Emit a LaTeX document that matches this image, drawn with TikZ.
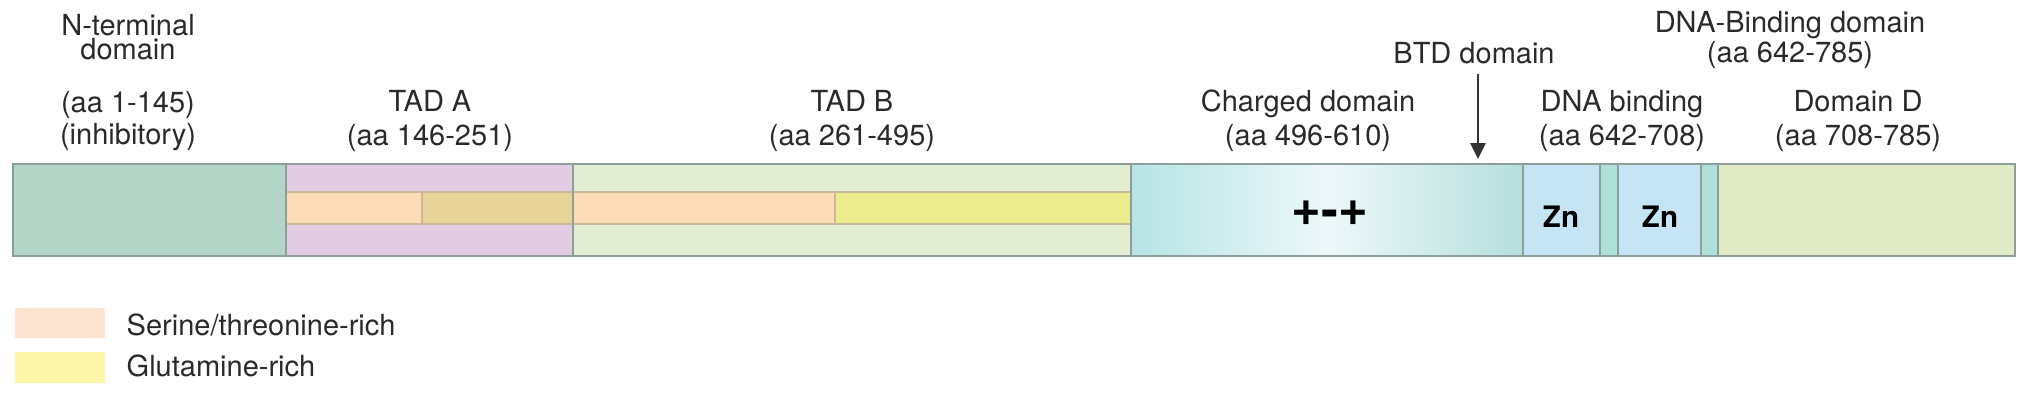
\documentclass[tikz,border=0pt]{standalone}
\usepackage{fontspec}
\setmainfont{TeX Gyre Heros}
\usepackage{tikz}
\usetikzlibrary{arrows.meta}

\definecolor{segline}{HTML}{8E9E9A}
\definecolor{stripeline}{HTML}{C9B89A}
\definecolor{ntermfill}{HTML}{B4D6C9}
\definecolor{tadafill}{HTML}{E4CBE4}
\definecolor{tadbfill}{HTML}{E3EDD1}
\definecolor{serfill}{HTML}{FCDCB6}
\definecolor{overlapfill}{HTML}{E8D497}
\definecolor{glnfill}{HTML}{ECEC8E}
\definecolor{chgleft}{HTML}{B6E4E5}
\definecolor{chgmid}{HTML}{EDF8FA}
\definecolor{chgright}{HTML}{B5DFDD}
\definecolor{znfill}{HTML}{C6E5F4}
\definecolor{gapfill}{HTML}{B0E0DA}
\definecolor{domdfill}{HTML}{E1ECC6}
\definecolor{serlegend}{HTML}{FDE4D0}
\definecolor{glnlegend}{HTML}{FBF5A8}
\definecolor{txt}{HTML}{2A2A2A}

\begin{document}
\begin{tikzpicture}[x=0.01cm, y=-0.01cm,
  every node/.style={font=\fontsize{8.25}{9.7}\selectfont, text=txt, inner sep=0pt},
  seg/.style={draw=segline, line width=0.55pt},
  stripe/.style={draw=stripeline, line width=0.35pt},
  lbl/.style={align=center, anchor=base},
  zn/.style={font=\fontsize{8.4}{9}\selectfont\bfseries, text=black},
  charge/.style={font=\fontsize{14.5}{15}\selectfont\bfseries, text=black},
  pointer/.style={draw=black!80, line width=0.55pt, -{Triangle[width=4.3pt,length=4.5pt]}}]
  \useasboundingbox (0,0) rectangle (2032,397);

  % domain fills
  \fill[ntermfill] (13,164) rectangle (286,256);
  \fill[tadafill] (286,164) rectangle (573,256);
  \fill[tadbfill] (573,164) rectangle (1131,256);
  \shade[left color=chgleft, right color=chgmid] (1131,164) rectangle (1330,256);
  \shade[left color=chgmid, right color=chgright] (1330,164) rectangle (1523,256);
  \fill[znfill] (1523,164) rectangle (1600,256);
  \fill[gapfill] (1600,164) rectangle (1618,256);
  \fill[znfill] (1618,164) rectangle (1701,256);
  \fill[gapfill] (1701,164) rectangle (1718,256);
  \fill[domdfill] (1718,164) rectangle (2015,256);

  % serine / glutamine stripes
  \filldraw[stripe, fill=serfill] (286,192) rectangle (422,224);
  \filldraw[stripe, fill=overlapfill] (422,192) rectangle (573,224);
  \filldraw[stripe, fill=serfill] (573,192) rectangle (835,224);
  \filldraw[stripe, fill=glnfill] (835,192) rectangle (1131,224);

  % outlines
  \draw[seg] (13,164) rectangle (286,256);
  \draw[seg] (286,164) rectangle (573,256);
  \draw[seg] (573,164) rectangle (1131,256);
  \draw[seg] (1131,164) rectangle (1523,256);
  \draw[seg] (1523,164) rectangle (1600,256);
  \draw[seg] (1600,164) rectangle (1618,256);
  \draw[seg] (1618,164) rectangle (1701,256);
  \draw[seg] (1701,164) rectangle (1718,256);
  \draw[seg] (1718,164) rectangle (2015,256);

  % labels (base = last line)
  \node[lbl] (nterm) at (128,60) {N-terminal\\[-2.7pt]domain};
  \node[lbl] (ntermaa) at (128,144) {(aa 1-145)\\[-0.6pt](inhibitory)};
  \node[lbl] (tada) at (430,146) {TAD A\\(aa 146-251)};
  \node[lbl] (tadb) at (852,146) {TAD B\\(aa 261-495)};
  \node[lbl] (charged) at (1308,146) {Charged domain\\(aa 496-610)};
  \node[lbl] (btd) at (1474,64) {BTD domain};
  \node[lbl] (dnab) at (1622,146) {DNA binding\\(aa 642-708)};
  \node[lbl] (dbd) at (1790,63) {DNA-Binding domain\\[-1.15pt](aa 642-785)};
  \node[lbl] (domd) at (1858,146) {Domain D\\(aa 708-785)};

  \node[charge] (chg) at (1330,214) {+\raisebox{-0.6pt}{-}+};
  \node[zn] (zn1) at (1561,217) {Zn};
  \node[zn] (zn2) at (1660,217) {Zn};

  \coordinate (btdtip) at (1478,159);
  \draw[pointer, shorten <=2.5pt] (btd.south -| btdtip) -- (btdtip);

  % legend
  \fill[serlegend] (15,308) rectangle (105,338);
  \node[anchor=base west] (serlbl) at (126,335) {Serine/threonine-rich};
  \fill[glnlegend] (15,352) rectangle (105,383);
  \node[anchor=base west] (glnlbl) at (126,376) {Glutamine-rich};
\end{tikzpicture}
\end{document}
